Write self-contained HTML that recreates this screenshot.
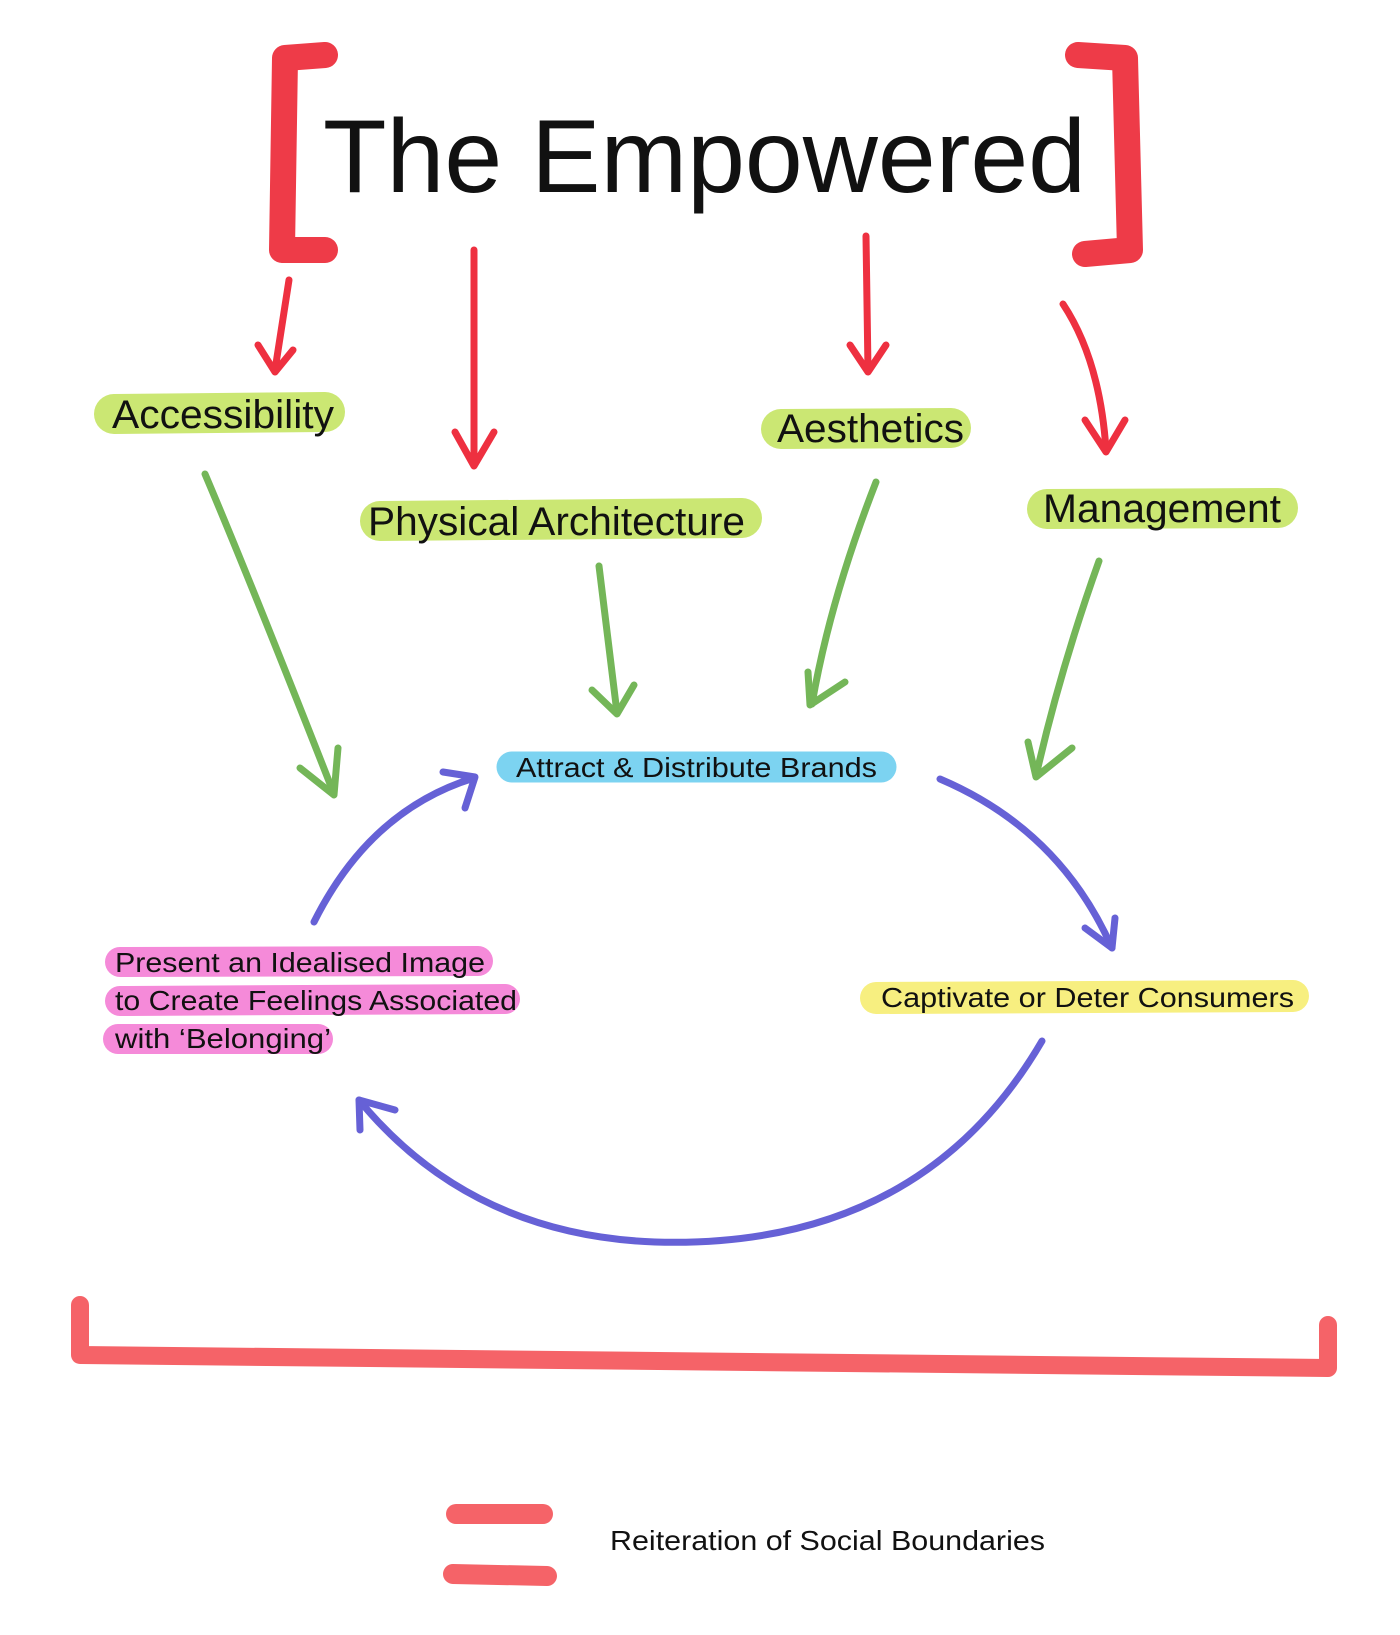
<!DOCTYPE html>
<html><head><meta charset="utf-8"><style>
html,body{margin:0;padding:0;background:#fff}
svg{display:block}
text{font-family:"Liberation Sans",Arial,sans-serif;fill:#111}
</style></head><body>
<svg width="1400" height="1635" viewBox="0 0 1400 1635" xmlns="http://www.w3.org/2000/svg">
<g fill="none" stroke-linecap="round" stroke-linejoin="round">
<!-- brackets -->
<path d="M325 55 L285 58 L282 250 L325 250" stroke="#ee3b48" stroke-width="26"/>
<path d="M1078 55 L1125 58 L1130 250 L1085 254" stroke="#ee3b48" stroke-width="26"/>
<!-- red arrows -->
<g stroke="#ee3040" stroke-width="7">
<path d="M289 280 L275 370"/><path d="M258 345 L275 372 L293 350"/>
<path d="M474 250 L474 465"/><path d="M455 432 L474 466 L494 432"/>
<path d="M866 236 L868 370"/><path d="M850 345 L868 372 L886 345"/>
<path d="M1063 304 Q1100 360 1106 450"/><path d="M1085 420 L1106 452 L1125 420"/>
</g>
<!-- green labels -->
<g stroke="#cbe773" stroke-width="40">
<path d="M114 414 L325 412"/>
<path d="M380 521 L742 518"/>
<path d="M781 429 L951 428"/>
<path d="M1047 509 L1278 508"/>
</g>
<!-- green arrows -->
<g stroke="#74b658" stroke-width="7">
<path d="M205 474 Q250 580 334 794"/><path d="M300 768 L334 795 L338 748"/>
<path d="M599 566 L617 713"/><path d="M592 690 L617 714 L634 685"/>
<path d="M876 482 Q830 600 812 704"/><path d="M808 672 L810 705 L845 682"/>
<path d="M1099 561 Q1060 670 1036 776"/><path d="M1028 742 L1036 777 L1072 748"/>
</g>
<!-- blue label -->
<path d="M512 767 L881 767" stroke="#7cd3f1" stroke-width="31"/>
<!-- blue arrows -->
<g stroke="#6661d6" stroke-width="7">
<path d="M314 922 Q370 810 474 778"/><path d="M443 772 L475 777 L465 808"/>
<path d="M940 779 Q1060 830 1112 948"/><path d="M1085 928 L1112 948 L1115 918"/>
<path d="M1042 1041 Q920 1250 655 1242 Q470 1235 359 1100"/><path d="M360 1130 L359 1100 L395 1110"/>
</g>
<!-- pink -->
<g stroke="#f58ad9" stroke-width="30">
<path d="M120 962 L478 961"/>
<path d="M120 1001 L505 999"/>
<path d="M118 1039 L318 1039"/>
</g>
<!-- yellow -->
<path d="M876 998 L1293 996" stroke="#f7ef80" stroke-width="32"/>
<!-- bottom bracket -->
<path d="M80 1305 L80 1355 L1328 1368 L1328 1325" stroke="#f56368" stroke-width="18"/>
<!-- equals -->
<path d="M456 1514 L543 1514" stroke="#f56368" stroke-width="20"/>
<path d="M453 1574 L547 1576" stroke="#f56368" stroke-width="20"/>
</g>
<text x="323" y="192" font-size="104" textLength="763" lengthAdjust="spacingAndGlyphs">The Empowered</text>
<text x="112" y="428" font-size="40" textLength="222" lengthAdjust="spacingAndGlyphs">Accessibility</text>
<text x="368" y="535" font-size="40" textLength="377" lengthAdjust="spacingAndGlyphs">Physical Architecture</text>
<text x="777" y="442" font-size="40" textLength="187" lengthAdjust="spacingAndGlyphs">Aesthetics</text>
<text x="1043" y="522" font-size="40" textLength="238" lengthAdjust="spacingAndGlyphs">Management</text>
<text x="516" y="777" font-size="28" textLength="361" lengthAdjust="spacingAndGlyphs">Attract &amp; Distribute Brands</text>
<text x="115" y="972" font-size="28" textLength="370" lengthAdjust="spacingAndGlyphs">Present an Idealised Image</text>
<text x="115" y="1010" font-size="28" textLength="402" lengthAdjust="spacingAndGlyphs">to Create Feelings Associated</text>
<text x="115" y="1048" font-size="28" textLength="216" lengthAdjust="spacingAndGlyphs">with ‘Belonging’</text>
<text x="881" y="1007" font-size="28" textLength="413" lengthAdjust="spacingAndGlyphs">Captivate or Deter Consumers</text>
<text x="610" y="1550" font-size="28" textLength="435" lengthAdjust="spacingAndGlyphs">Reiteration of Social Boundaries</text>
</svg>
</body></html>
